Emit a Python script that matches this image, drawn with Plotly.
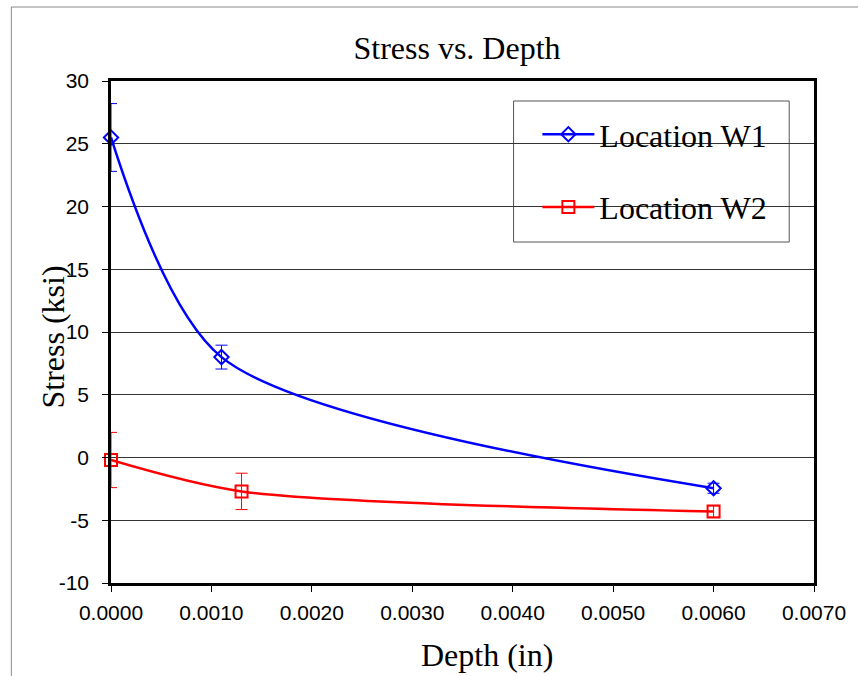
import plotly.graph_objects as go

# Data
depth_w1 = [0.0, 0.0011, 0.0060]
stress_w1 = [25.5, 8.0, -2.45]
err_w1 = [2.7, 0.95, 0.4]

depth_w2 = [0.0, 0.0013, 0.0060]
stress_w2 = [-0.2, -2.7, -4.3]
err_w2 = [2.2, 1.45, 0.45]

x_ticks = [0.0, 0.001, 0.002, 0.003, 0.004, 0.005, 0.006, 0.007]
x_labels = ["0.0000", "0.0010", "0.0020", "0.0030", "0.0040", "0.0050", "0.0060", "0.0070"]
y_ticks = [-10, -5, 0, 5, 10, 15, 20, 25, 30]
y_labels = ["-10", "-5", "0", "5", "10", "15", "20", "25", "30"]

serif = "Liberation Serif, Times New Roman, serif"
sans = "Liberation Sans, Arial, sans-serif"

# plot-area geometry in pixels
W, H = 858, 676
L, R, T, B = 111, 820, 81, 583
pw, ph = R - L, B - T


def px(x):
    return (x - L) / pw


def py(y):
    return (B - y) / ph


fig = go.Figure()
fig.add_trace(go.Scatter(
    x=depth_w1, y=stress_w1, name="Location W1", legendgroup="a",
    mode="lines+markers", line=dict(color="#0000FF", width=2.5, shape="spline", smoothing=0.8),
    marker=dict(symbol="diamond-open", size=11, color="#0000FF", line=dict(width=2)),
    error_y=dict(type="data", array=err_w1, color="#0000FF", thickness=1, width=6),
    cliponaxis=False,
))
fig.add_trace(go.Scatter(
    x=depth_w2, y=stress_w2, name="Location W2", legendgroup="b",
    mode="lines+markers", line=dict(color="#FF0000", width=2.5, shape="spline", smoothing=0.8),
    marker=dict(symbol="square-open", size=12, color="#FF0000", line=dict(width=2)),
    error_y=dict(type="data", array=err_w2, color="#FF0000", thickness=1, width=6),
    cliponaxis=False,
))

fig.update_layout(
    width=W, height=H,
    margin=dict(l=L, r=W - R, t=T, b=H - B),
    paper_bgcolor="white", plot_bgcolor="white",
    title=dict(text="Stress vs. Depth", x=457 / W, xanchor="center", y=1 - 48 / H, yanchor="middle",
               font=dict(family=serif, size=32, color="black")),
    showlegend=True,
    legend=dict(x=px(541), y=py(107), xanchor="left", yanchor="top",
                font=dict(family=serif, size=32, color="black"),
                borderwidth=0, bgcolor="rgba(0,0,0,0)",
                traceorder="grouped", tracegroupgap=28, itemwidth=52),
    shapes=[
        dict(type="rect", xref="paper", yref="paper", x0=px(10.5), x1=px(W + 20), y0=py(H + 20), y1=py(7),
             line=dict(color="#888888", width=1), layer="below"),
        dict(type="rect", xref="paper", yref="paper", x0=px(517), x1=px(795), y0=py(242), y1=py(101),
             line=dict(color="#555555", width=1), fillcolor="white", layer="between"),
    ],
    annotations=[
        dict(text="Stress (ksi)", textangle=-90, xref="paper", yref="paper", x=px(53), y=py(337),
             xanchor="center", yanchor="middle", showarrow=False,
             font=dict(family=serif, size=32, color="black")),
        dict(text="Depth (in)", xref="paper", yref="paper", x=px(490), y=py(655),
             xanchor="center", yanchor="middle", showarrow=False,
             font=dict(family=serif, size=32, color="black")),
    ],
)
fig.update_xaxes(
    range=[0, 0.007], tickvals=x_ticks, ticktext=x_labels,
    showgrid=False, zeroline=False,
    showline=True, linecolor="black", linewidth=2.5, mirror=True,
    ticks="outside", ticklen=6, tickcolor="black", tickwidth=1,
    tickfont=dict(family=sans, size=21, color="black"), ticklabelstandoff=3,
)
fig.update_yaxes(
    range=[-10, 30], tickvals=y_ticks, ticktext=y_labels,
    showgrid=True, gridcolor="#333333", gridwidth=1, zeroline=False,
    showline=True, linecolor="black", linewidth=2.5, mirror=True,
    ticks="outside", ticklen=6, tickcolor="black", tickwidth=1,
    tickfont=dict(family=sans, size=21, color="black"), ticklabelstandoff=9,
)

fig.write_html("out.html", config={"displayModeBar": False},
               post_script="document.body.style.margin='0px';")
